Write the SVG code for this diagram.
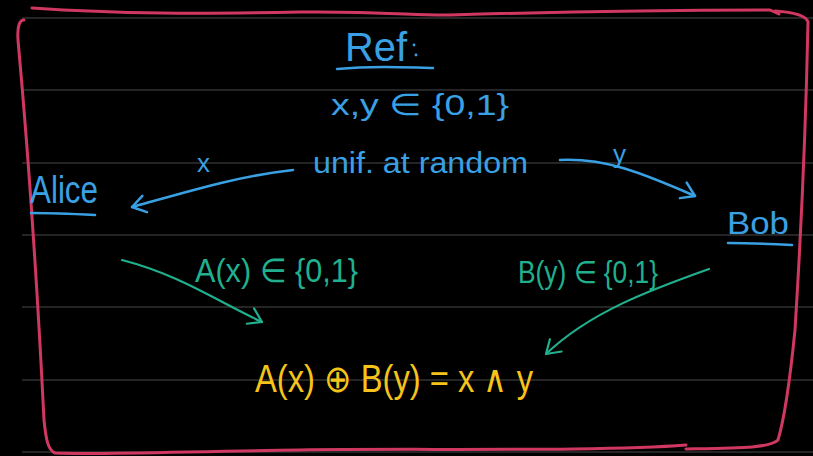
<svg xmlns="http://www.w3.org/2000/svg" width="813" height="456" viewBox="0 0 813 456">
<defs>
<style>
.rule{stroke:#4a4a4a;stroke-width:1}
.blue{fill:#3aa0e4;font-family:"Liberation Sans",sans-serif}
.green{fill:#20b08e;font-family:"Liberation Sans",sans-serif}
.yellow{fill:#f6c31a;font-family:"Liberation Sans",sans-serif}
.bl{stroke:#3aa0e4;stroke-width:2.5;fill:none;stroke-linecap:round}
.gl{stroke:#20b08e;stroke-width:2.2;fill:none;stroke-linecap:round}
.frame{stroke:#d03862;stroke-width:3;fill:none;stroke-linecap:round;stroke-linejoin:round}
</style>
<marker id="hb" markerUnits="userSpaceOnUse" markerWidth="30" markerHeight="30" refX="0" refY="0" viewBox="-16 -15 30 30" orient="auto">
<path d="M-13,-9 L0,0 L-13,8" fill="none" stroke="#3aa0e4" stroke-width="2.5" stroke-linecap="round" stroke-linejoin="round"/>
</marker>
<marker id="hg" markerUnits="userSpaceOnUse" markerWidth="30" markerHeight="30" refX="0" refY="0" viewBox="-16 -15 30 30" orient="auto">
<path d="M-13,-9 L0,0 L-13,8" fill="none" stroke="#20b08e" stroke-width="2.2" stroke-linecap="round" stroke-linejoin="round"/>
</marker>
</defs>
<rect width="813" height="456" fill="#000"/>
<g id="rules">
<line class="rule" x1="22" y1="18" x2="813" y2="18"/>
<line class="rule" x1="22" y1="90" x2="813" y2="90"/>
<line class="rule" x1="22" y1="163" x2="813" y2="163"/>
<line class="rule" x1="22" y1="235" x2="813" y2="235"/>
<line class="rule" x1="22" y1="307" x2="813" y2="307"/>
<line class="rule" x1="22" y1="380" x2="813" y2="380"/>
<line class="rule" x1="22" y1="452" x2="813" y2="452"/>
</g>
<g id="frame">
<path class="frame" d="M32,8 C120,14 200,14 300,12 C380,11 420,16 450,15 C550,12 650,10 770,10 L779,14"/>
<path class="frame" d="M775,11 C790,12 806,15 808,22 C806,120 800,250 795,330 C790,380 784,420 778,440 C770,448 740,448 686,449"/>
<path class="frame" d="M686,445 C600,452 400,448 300,450 C200,451 100,455 55,453 C48,450 46,440 44,420 C38,300 28,150 18,40 C17,25 20,20 24,20"/>
</g>
<g id="ref">
<text class="blue" x="345" y="61" font-size="40" textLength="62" lengthAdjust="spacingAndGlyphs">Ref</text>
<circle cx="414" cy="45" r="1.4" fill="#3aa0e4"/>
<circle cx="416" cy="55" r="1.4" fill="#3aa0e4"/>
<path class="bl" d="M337,69 C370,66 400,67 433,68"/>
<text class="blue" x="331" y="115" font-size="30" textLength="178" lengthAdjust="spacingAndGlyphs">x,y ∈ {0,1}</text>
<text class="blue" x="313" y="173" font-size="30" textLength="215" lengthAdjust="spacingAndGlyphs">unif. at random</text>
</g>
<g id="alice">
<text class="blue" x="30" y="203" font-size="38" textLength="68" lengthAdjust="spacingAndGlyphs">Alice</text>
<path class="bl" d="M31,213 C50,213 75,214 95,215"/>
</g>
<g id="bob">
<text class="blue" x="727" y="234" font-size="32" textLength="62" lengthAdjust="spacingAndGlyphs">Bob</text>
<path class="bl" d="M728,243 C750,243 772,244 792,245"/>
</g>
<g id="result">
<text class="yellow" x="255" y="392" font-size="38" textLength="278" lengthAdjust="spacingAndGlyphs">A(x) ⊕ B(y) = x ∧ y</text>
</g>
<g id="connectors">
<path class="bl" d="M293,170 C240,176 200,188 132,207" marker-end="url(#hb)"/>
<text class="blue" x="197" y="172" font-size="26">x</text>
<path class="bl" d="M560,160 C605,158 640,172 695,196" marker-end="url(#hb)"/>
<text class="blue" x="613" y="163" font-size="26">y</text>
<path class="gl" d="M122,260 C180,275 215,300 262,322" marker-end="url(#hg)"/>
<text class="green" x="195" y="282" font-size="33" textLength="163" lengthAdjust="spacingAndGlyphs">A(x) ∈ {0,1}</text>
<path class="gl" d="M709,269 C650,290 590,312 546,354" marker-end="url(#hg)"/>
<text class="green" x="518" y="283" font-size="31" textLength="140" lengthAdjust="spacingAndGlyphs">B(y) ∈ {0,1}</text>
</g>
</svg>
